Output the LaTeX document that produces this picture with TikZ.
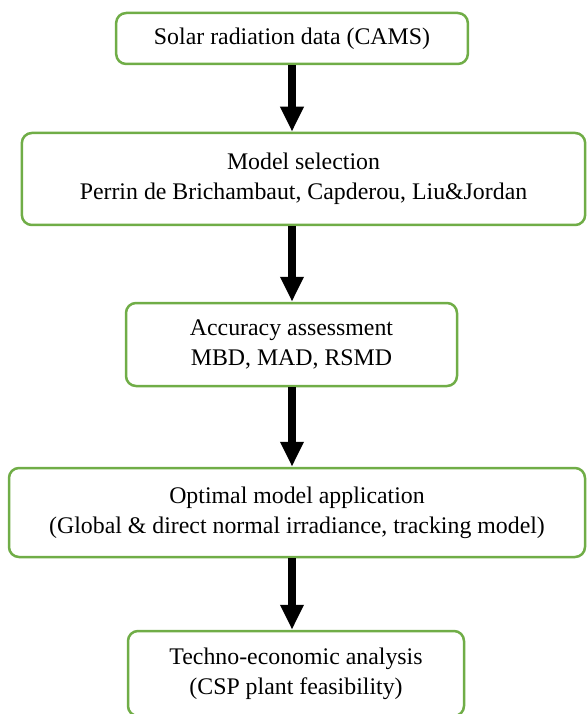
\documentclass[tikz,border=0pt]{standalone}
\usepackage{fontspec}
\setmainfont{Liberation Serif}
\usetikzlibrary{arrows.meta}
\definecolor{boxgreen}{RGB}{112,173,71}
\tikzset{
  stage/.style={draw=boxgreen, line width=1.5pt, rounded corners=6pt, align=center,
    font=\fontsize{14.3}{17.8}\selectfont, inner sep=0pt},
  flow/.style={line width=4.8pt, -{Triangle[width=13.2pt,length=15pt]}}
}
\begin{document}
\begin{tikzpicture}[x=0.6pt, y=-0.6pt]
\useasboundingbox (0,0) rectangle (587,714);

\node[stage, minimum width=211pt, minimum height=30.6pt] (data) at (292, 38.5) {Solar radiation data (CAMS)};
\node[stage, minimum width=338pt, minimum height=55.2pt] (select) at (303.5, 179) {Model selection\\Perrin de Brichambaut, Capderou, Liu\&Jordan};
\node[stage, minimum width=198.6pt, minimum height=49.8pt] (assess) at (291.5, 344.5) {Accuracy assessment\\MBD, MAD, RSMD};
\node[stage, minimum width=345.6pt, minimum height=53.4pt] (apply) at (297, 512.5) {Optimal model application\\(Global \& direct normal irradiance, tracking model)};
\node[stage, minimum width=201.6pt, minimum height=51pt] (econ) at (296, 673.5) {Techno-economic analysis\\(CSP plant feasibility)};

\coordinate (axis) at (292, 0);
\draw[flow] (axis |- data.south) -- (axis |- select.north);
\draw[flow] (axis |- select.south) -- (axis |- assess.north);
\draw[flow] (axis |- assess.south) -- (axis |- apply.north);
\draw[flow] (axis |- apply.south) -- (axis |- econ.north);

\end{tikzpicture}
\end{document}
